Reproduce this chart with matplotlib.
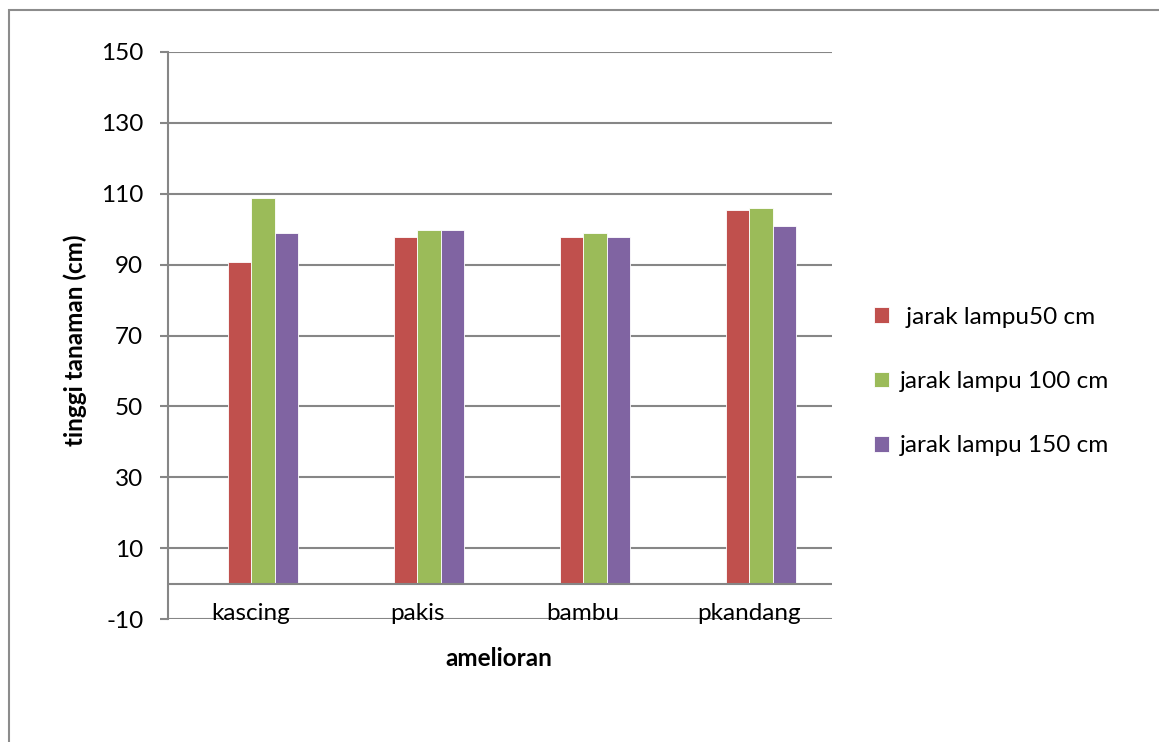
import numpy as np
import matplotlib.pyplot as plt
from matplotlib.patches import Rectangle

# Data
categories = ["kascing", "pakis", "bambu", "pkandang"]
series_names = [" jarak lampu50 cm", "jarak lampu 100 cm", "jarak lampu 150 cm"]
lampu_50 = [90.6, 97.9, 97.9, 105.5]
lampu_100 = [108.9, 99.9, 99.0, 105.9]
lampu_150 = [99.0, 99.9, 97.9, 101.0]
yticks = [-10, 10, 30, 50, 70, 90, 110, 130, 150]

colors = ["#C0504D", "#9BBB59", "#8064A2"]
grid_color = "#868686"

plt.rcParams['font.family'] = ['Lato', 'DejaVu Sans']
plt.rcParams['axes.unicode_minus'] = False
fs = 17.5

W, H = 1159, 742
fig = plt.figure(figsize=(W / 100, H / 100), dpi=100)

# outer chart border (only top and left edges visible)
fig.patches.append(Rectangle((9 / W, -0.5), 1.5, 1.5 - 10 / H, transform=fig.transFigure,
                             fill=False, edgecolor="#8c8c8c", linewidth=1.5))

ax = fig.add_axes([168 / W, 1 - 619 / H, (832 - 168) / W, (619 - 52) / H])
ax.set_xlim(0, 4)
ax.set_ylim(-10, 150)

for s in ["top", "right", "bottom"]:
    ax.spines[s].set_visible(False)
ax.spines["left"].set_color(grid_color)
ax.spines["left"].set_linewidth(1.5)

for t in yticks:
    ax.axhline(t, color=grid_color, linewidth=1.5, zorder=1)
ax.axhline(0, color=grid_color, linewidth=1.5, zorder=3)

x = np.arange(len(categories)) + 0.5
bw = 0.142
shift = 0.072  # bar groups sit a little right of the category labels
for i, vals in enumerate([lampu_50, lampu_100, lampu_150]):
    ax.bar(x + shift + (i - 1) * bw, vals, width=bw, color=colors[i], edgecolor="white",
           linewidth=0.6, label=series_names[i], zorder=2)

ax.set_yticks(yticks)
ax.tick_params(axis="y", length=5.8, width=1.5, color=grid_color, labelsize=fs, pad=12)
ax.set_xticks([])
for xi, c in zip(x, categories):
    ax.text(xi, -8.5, c, ha="center", va="center", fontsize=fs)

fig.text(499 / W, 1 - 659 / H, "amelioran", ha="center", va="center",
         fontsize=fs, fontweight="bold")
fig.text(75 / W, 1 - 340 / H, "tinggi tanaman (cm)", ha="center", va="center",
         rotation=90, fontsize=fs, fontweight="bold")

fig.legend(loc="upper left", bbox_to_anchor=(852 / W, 1 - 285 / H),
           frameon=False, fontsize=fs, handlelength=0.62, handleheight=0.62,
           handletextpad=0.45, labelspacing=1.78)

fig.savefig("out.png", dpi=100)
